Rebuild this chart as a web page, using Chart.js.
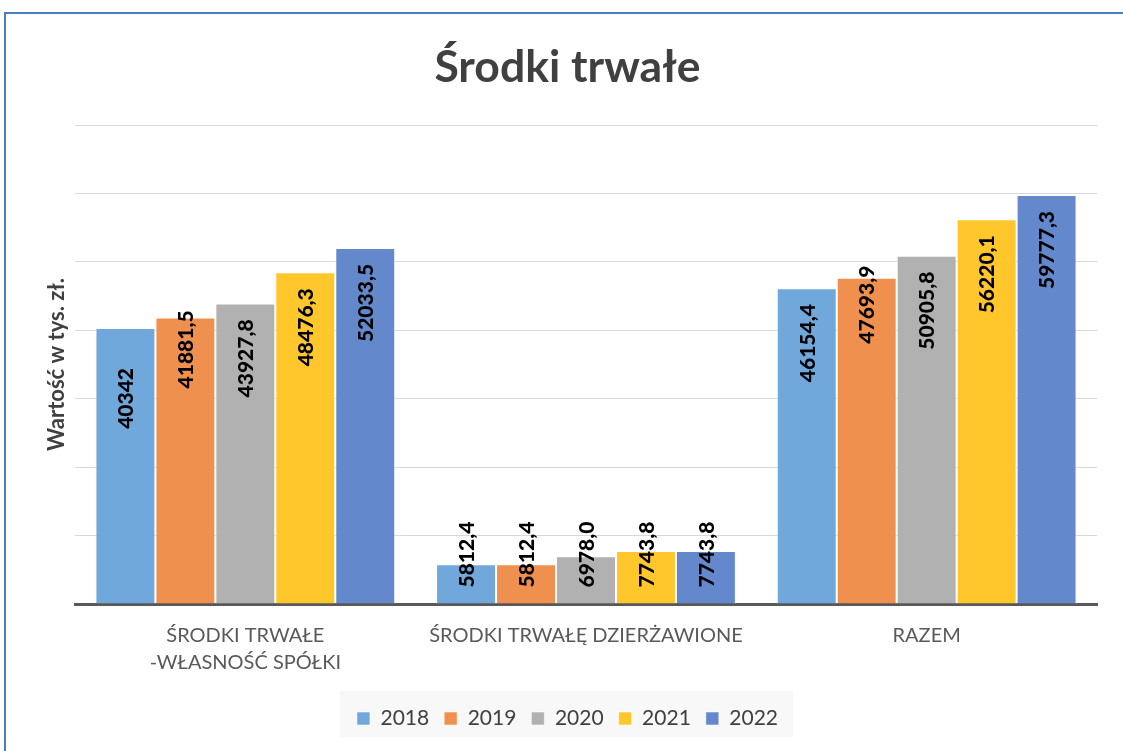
<!DOCTYPE html>
<html>
<head>
<meta charset="utf-8">
<script src="https://cdn.jsdelivr.net/npm/chart.js@4.4.1/dist/chart.umd.min.js"></script>
<style>
  html, body { margin: 0; padding: 0; background: #fff; overflow: hidden; }
  #frame {
    position: absolute; left: 4px; top: 12px; width: 1300px; height: 900px;
    border-top: 2px solid #4a7fc1; border-left: 2px solid #4a7fc1;
  }
  #wrap { position: absolute; left: 0; top: 0; width: 1123px; height: 751px; }
</style>
</head>
<body>
<div id="frame"></div>
<div id="wrap"><canvas id="chart" width="1123" height="751"></canvas></div>
<script>
/* ---- dane ---- */
const categories = [["ŚRODKI TRWAŁE", "-WŁASNOŚĆ SPÓŁKI"], "ŚRODKI TRWAŁĘ DZIERŻAWIONE", "RAZEM"];
const years = ["2018", "2019", "2020", "2021", "2022"];

const v2018 = [40342, 5812.4, 46154.4];
const v2019 = [41881.5, 5812.4, 47693.9];
const v2020 = [43927.8, 6978.0, 50905.8];
const v2021 = [48476.3, 7743.8, 56220.1];
const v2022 = [52033.5, 7743.8, 59777.3];

const yMax = 70000;
const yStep = 10000;

const series = [v2018, v2019, v2020, v2021, v2022];
const colors = ["#70a8dc", "#f0904f", "#b1b1b1", "#ffc72c", "#6388cc"];

// etykiety bez miejsca po przecinku (tak jak w oryginale)
const wholeLabels = ["0-0"];

function fmt(v, di, i) {
  if (wholeLabels.includes(di + "-" + i)) return String(Math.round(v));
  return v.toFixed(1).replace(".", ",");
}

/* ---- etykiety wartości ---- */
const valueLabels = {
  id: "valueLabels",
  afterDatasetsDraw(chart, args, opts) {
    const ctx = chart.ctx;
    chart.data.datasets.forEach((ds, di) => {
      chart.getDatasetMeta(di).data.forEach((bar, i) => {
        const v = ds.data[i];
        const key = di + "-" + i;
        let y, align;
        if (v < opts.smallLimit) {
          y = bar.base - 16;
          align = "left";
        } else {
          y = bar.y + 16 + (opts.nudge[key] || 0);
          align = "right";
        }
        ctx.save();
        ctx.font = "900 21px Lato";
        ctx.fillStyle = "#000";
        ctx.textBaseline = "middle";
        ctx.textAlign = align;
        ctx.translate(bar.x + 1, y);
        ctx.rotate(-Math.PI / 2);
        ctx.fillText(fmt(v, di, i), 0, 0);
        ctx.restore();
      });
    });
  }
};

/* ---- przesunięcie tytułu i legendy (środek jak w oryginale) ---- */
const centerShift = {
  id: "centerShift",
  afterLayout(chart, args, opts) {
    [chart.titleBlock, chart.legend].forEach(b => {
      if (!b) return;
      b.left += opts.dx;
      b.right += opts.dx;
    });
  }
};

/* ---- tło legendy ---- */
const legendBg = {
  id: "legendBg",
  beforeDraw(chart) {
    const lg = chart.legend;
    if (!lg || !lg.lineWidths) return;
    const cx = (lg.left + lg.right) / 2;
    const w = lg.lineWidths[0] + 17;
    const cy = (lg.top + lg.bottom) / 2 - 2;
    const ctx = chart.ctx;
    ctx.save();
    ctx.fillStyle = "#f8f8f8";
    ctx.fillRect(cx - w / 2 - 1, cy - 23, w, 46);
    ctx.restore();
  }
};

new Chart(document.getElementById("chart"), {
  type: "bar",
  data: {
    labels: categories,
    datasets: years.map((y, k) => ({
      label: y,
      data: series[k],
      backgroundColor: colors[k],
      borderColor: "rgba(255,255,255,0.55)",
      borderWidth: 1,
      categoryPercentage: 0.88,
      barPercentage: 1
    }))
  },
  options: {
    responsive: false,
    animation: false,
    devicePixelRatio: 1,
    layout: { padding: { left: 0, right: 26, top: 0, bottom: 12 } },
    plugins: {
      title: {
        display: true,
        text: "Środki trwałe",
        color: "#404040",
        font: { family: "Lato", size: 44.5, weight: "bold", lineHeight: 1.2 },
        padding: { top: 41, bottom: 30.6 }
      },
      legend: {
        position: "bottom",
        labels: {
          color: "#404040",
          font: { family: "Lato", size: 21 },
          boxWidth: 13,
          boxHeight: 13,
          padding: 15
        }
      },
      tooltip: { enabled: false },
      centerShift: { dx: 19 },
      valueLabels: {
        smallLimit: 10000,
        nudge: { "0-0": 24, "1-0": -23, "1-2": -28 }
      }
    },
    scales: {
      x: {
        grid: { display: false, drawTicks: false },
        border: { display: true, color: "#595959", width: 3 },
        ticks: {
          color: "#595959",
          font: { family: "Lato", size: 20, lineHeight: 1.35 },
          padding: 18,
          maxRotation: 0,
          autoSkip: false
        },
        afterFit(s) { s.height = 751 - 12 - 46 - 604; }
      },
      y: {
        min: 0,
        max: yMax,
        ticks: { display: false, stepSize: yStep },
        grid: { color: "#d9d9d9", lineWidth: 1, drawTicks: false },
        border: { display: false },
        title: {
          display: true,
          text: "Wartość w tys. zł.",
          color: "#404040",
          font: { family: "Lato", size: 22, weight: "bold" },
          padding: { top: 44, bottom: 0 }
        },
        afterFit(s) { s.width = 75; }
      }
    }
  },
  plugins: [centerShift, legendBg, valueLabels]
});
</script>
</body>
</html>
